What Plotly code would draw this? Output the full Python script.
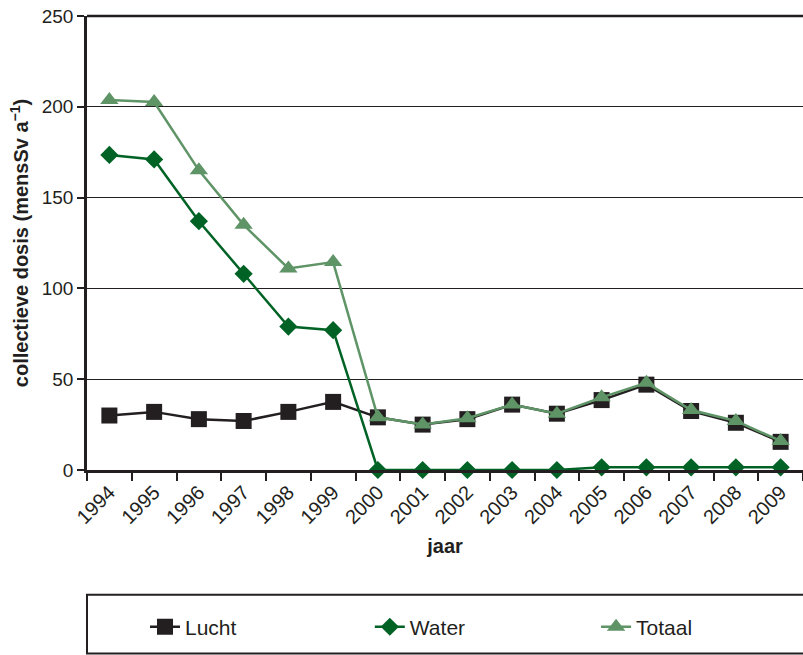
import plotly.graph_objects as go

years = [str(y) for y in range(1994, 2010)]
lucht = [30, 32, 28, 27, 32, 37.5, 29, 25, 28, 36, 31, 38.5, 47, 32.5, 26, 15.5]
water = [173.5, 171, 137, 108, 79, 77, 0, 0, 0, 0, 0, 1.5, 1.5, 1.5, 1.5, 1.5]
totaal = [203.7, 202.6, 165, 135, 111, 114.5, 29, 25, 28.5, 36, 31, 40, 48, 33, 27, 16]

BLACK = "#231f20"
DGREEN = "#006325"
LGREEN = "#5f9467"
FONT = "Liberation Sans, Arial, sans-serif"

fig = go.Figure()
fig.add_trace(go.Scatter(x=years, y=lucht, name="Lucht", mode="lines+markers",
                         line=dict(color=BLACK, width=2.5),
                         marker=dict(symbol="square", size=16, color=BLACK),
                         cliponaxis=False, legend="legend"))
fig.add_trace(go.Scatter(x=years, y=water, name="Water", mode="lines+markers",
                         line=dict(color=DGREEN, width=2.5),
                         marker=dict(symbol="diamond", size=14, color=DGREEN),
                         cliponaxis=False, legend="legend2"))
fig.add_trace(go.Scatter(x=years, y=totaal, name="Totaal", mode="lines+markers",
                         line=dict(color=LGREEN, width=2.5),
                         marker=dict(symbol="triangle-up", size=16, color=LGREEN),
                         cliponaxis=False, legend="legend3"))

leg_common = dict(orientation="h", yanchor="middle", y=-0.346, xanchor="left",
                  font=dict(size=21, color=BLACK, family=FONT),
                  bgcolor="rgba(0,0,0,0)", itemsizing="trace")

fig.update_layout(
    width=803, height=655,
    margin=dict(l=87, r=0, t=16, b=185),
    paper_bgcolor="white", plot_bgcolor="white",
    font=dict(family=FONT, size=19, color=BLACK),
    showlegend=True,
    legend=dict(x=0.081, **leg_common),
    legend2=dict(x=0.395, **leg_common),
    legend3=dict(x=0.711, **leg_common),
    xaxis=dict(type="category", range=[-0.5, 15.5], tickson="boundaries",
               ticks="outside", ticklen=8,
               tickwidth=1.5, tickcolor=BLACK, tickangle=-45,
               showline=True, linecolor=BLACK, linewidth=2.5, showgrid=False,
               title=dict(text="<b>jaar</b>", font=dict(size=20), standoff=12),
               tickfont=dict(size=20)),
    yaxis=dict(range=[0, 250], tick0=0, dtick=50, ticks="outside", ticklen=7,
               tickcolor=BLACK, tickwidth=1.5,
               showline=True, linecolor=BLACK, linewidth=2.5,
               showgrid=True, gridcolor=BLACK, gridwidth=1, zeroline=False,
               title=dict(text="<b>collectieve dosis (mensSv a<sup>−1</sup>)</b>",
                          font=dict(size=20), standoff=8),
               tickfont=dict(size=19)),
    shapes=[
        dict(type="rect", xref="paper", yref="paper", x0=0, x1=1.01, y0=-0.404, y1=-0.275,
             line=dict(color=BLACK, width=2), fillcolor="rgba(0,0,0,0)", layer="below"),
        dict(type="line", xref="paper", yref="paper", x0=0, x1=1, y0=1, y1=1,
             line=dict(color=BLACK, width=2.5)),
    ],
)

fig.write_html("out.html", config={"displayModeBar": False},
               post_script="document.body.style.margin='0';document.body.style.overflow='hidden';")
